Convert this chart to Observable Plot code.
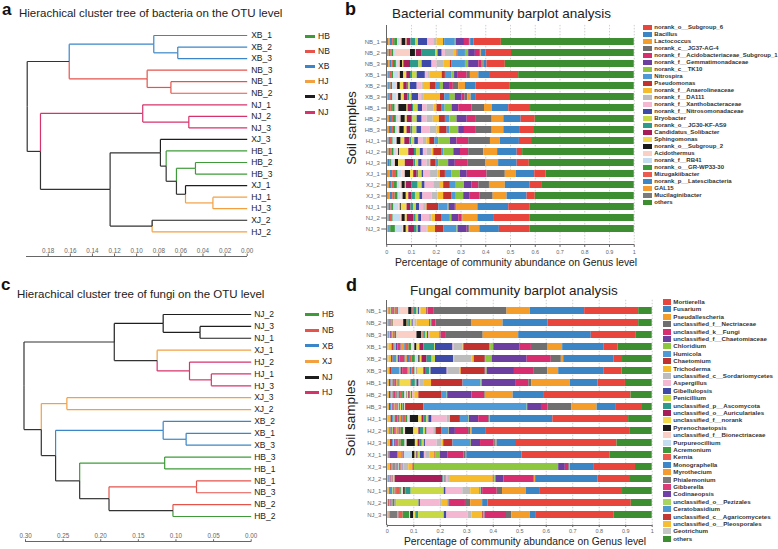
<!DOCTYPE html>
<html><head><meta charset="utf-8">
<script src="https://cdn.jsdelivr.net/npm/d3@7"></script>
<script src="https://cdn.jsdelivr.net/npm/@observablehq/plot@0.6"></script>
<style>
body{margin:0;background:#fff;}
#root{position:relative;width:778px;height:549px;overflow:hidden;background:#fff;font-family:"Liberation Sans",Arial,Helvetica,sans-serif;color:#222;}
.abs{position:absolute;white-space:nowrap;}
.panel{position:absolute;}
</style></head><body><div id="root"></div>
<script>
// ---------------- DATA ----------------
const samplesB = ["NB_1","NB_2","NB_3","XB_1","XB_2","XB_3","HB_1","HB_2","HB_3","HJ_1","HJ_2","HJ_3","XJ_1","XJ_2","XJ_3","NJ_1","NJ_2","NJ_3"];
const samplesD = ["NB_1","NB_2","NB_3","XB_1","XB_2","XB_3","HB_1","HB_2","HB_3","HJ_1","HJ_2","HJ_3","XJ_1","XJ_3","XJ_2","NJ_1","NJ_2","NJ_3"];

// legend order (top to bottom)
const bacteriaTaxa = ["norank_o__Subgroup_6","Bacillus","Lactococcus","norank_c__JG37-AG-4","norank_f__Acidobacteriaceae_Subgroup_1","norank_f__Gemmatimonadaceae","norank_c__TK10","Nitrospira","Pseudomonas","norank_f__Anaerolineaceae","norank_f__DA111","norank_f__Xanthobacteraceae","norank_f__Nitrosomonadaceae","Bryobacter","norank_o__JG30-KF-AS9","Candidatus_Solibacter","Sphingomonas","norank_o__Subgroup_2","Acidothermus","norank_f__RB41","norank_o__GR-WP33-30","Mizugakiibacter","norank_p__Latescibacteria","GAL15","Mucilaginibacter","others"];
const bacteriaColors = ["#e8453c","#3c85c4","#f59d2a","#6f6f6f","#d62e6e","#6b3fa0","#8dc63f","#4e9ad6","#c1322f","#f7bc2e","#bdbdbd","#f5b8d2","#3e4aa8","#c8d946","#2d9b8b","#a61d5a","#f2da4c","#1b1b1b","#f9cfc6","#c4ddf1","#3b9a3b","#ea5a4e","#3d87c9","#f59b2f","#7b7b7b","#3d8e30"];

// relative abundance per sample (rows = samplesB), listed in stacking order left->right:
// Mucilaginibacter ... norank_o__Subgroup_6, then others
const bacteriaAbundance = [
 [0.008,0.006,0.010,0.008,0.012,0.010,0.008,0.016,0.004,0.016,0.020,0.010,0.038,0.024,0.013,0.027,0.004,0.043,0.004,0.033,0.020,0.003,0.002,0.013,0.111,0.537],
 [0.006,0.004,0.006,0.005,0.008,0.006,0.061,0.020,0.004,0.023,0.054,0.010,0.017,0.013,0.033,0.014,0.004,0.030,0.013,0.027,0.020,0.003,0.002,0.018,0.103,0.496],
 [0.008,0.005,0.008,0.006,0.012,0.008,0.008,0.010,0.004,0.027,0.034,0.013,0.040,0.020,0.027,0.027,0.007,0.054,0.013,0.041,0.013,0.005,0.002,0.013,0.074,0.521],
 [0.004,0.004,0.006,0.006,0.008,0.020,0.007,0.014,0.012,0.015,0.008,0.019,0.033,0.013,0.007,0.048,0.013,0.027,0.010,0.015,0.036,0.013,0.034,0.047,0.114,0.467],
 [0.004,0.004,0.005,0.005,0.006,0.015,0.005,0.011,0.014,0.014,0.006,0.007,0.027,0.020,0.005,0.028,0.021,0.020,0.012,0.028,0.012,0.022,0.027,0.043,0.136,0.503],
 [0.004,0.004,0.006,0.005,0.006,0.016,0.007,0.011,0.012,0.015,0.006,0.010,0.027,0.012,0.008,0.068,0.017,0.023,0.020,0.027,0.012,0.011,0.014,0.021,0.138,0.500],
 [0.004,0.006,0.006,0.008,0.010,0.007,0.008,0.033,0.004,0.018,0.006,0.017,0.018,0.018,0.027,0.013,0.021,0.012,0.028,0.027,0.054,0.050,0.031,0.067,0.088,0.419],
 [0.005,0.006,0.008,0.008,0.012,0.010,0.009,0.017,0.008,0.017,0.006,0.017,0.020,0.020,0.025,0.025,0.024,0.018,0.029,0.041,0.037,0.064,0.047,0.070,0.057,0.400],
 [0.005,0.006,0.008,0.008,0.010,0.008,0.008,0.018,0.011,0.016,0.008,0.016,0.020,0.034,0.027,0.011,0.030,0.011,0.036,0.023,0.048,0.064,0.047,0.067,0.057,0.403],
 [0.004,0.005,0.006,0.005,0.006,0.010,0.006,0.016,0.015,0.020,0.008,0.012,0.015,0.020,0.014,0.012,0.020,0.016,0.047,0.027,0.047,0.088,0.040,0.077,0.049,0.415],
 [0.004,0.006,0.006,0.006,0.008,0.010,0.008,0.004,0.037,0.023,0.008,0.016,0.012,0.015,0.020,0.007,0.034,0.006,0.041,0.027,0.033,0.061,0.056,0.079,0.022,0.451],
 [0.003,0.004,0.005,0.004,0.005,0.010,0.004,0.013,0.027,0.034,0.008,0.012,0.014,0.020,0.011,0.004,0.019,0.013,0.040,0.027,0.050,0.074,0.051,0.075,0.049,0.424],
 [0.006,0.008,0.010,0.012,0.010,0.015,0.014,0.021,0.013,0.014,0.006,0.014,0.007,0.027,0.030,0.010,0.020,0.027,0.034,0.027,0.080,0.074,0.045,0.074,0.046,0.356],
 [0.005,0.006,0.010,0.010,0.012,0.010,0.009,0.013,0.004,0.023,0.025,0.016,0.012,0.035,0.027,0.013,0.027,0.024,0.033,0.031,0.027,0.043,0.064,0.099,0.051,0.371],
 [0.006,0.008,0.010,0.010,0.012,0.012,0.008,0.013,0.010,0.013,0.014,0.018,0.012,0.037,0.024,0.023,0.034,0.017,0.030,0.024,0.041,0.054,0.056,0.081,0.033,0.400],
 [0.004,0.005,0.008,0.006,0.006,0.020,0.006,0.004,0.023,0.016,0.010,0.012,0.013,0.016,0.008,0.006,0.047,0.036,0.006,0.025,0.003,0.002,0.086,0.125,0.085,0.422],
 [0.004,0.005,0.006,0.005,0.006,0.030,0.006,0.013,0.008,0.026,0.010,0.010,0.012,0.032,0.010,0.014,0.027,0.033,0.006,0.028,0.013,0.004,0.060,0.067,0.143,0.422],
 [0.004,0.004,0.004,0.004,0.019,0.030,0.004,0.010,0.010,0.023,0.011,0.004,0.012,0.024,0.004,0.030,0.033,0.054,0.004,0.037,0.006,0.004,0.041,0.079,0.123,0.422]
];

const fungiTaxa = ["Mortierella","Fusarium","Pseudallescheria","unclassified_f__Nectriaceae","unclassified_k__Fungi","unclassified_f__Chaetomiaceae","Chloridium","Humicola","Chaetomium","Trichoderma","unclassified_c__Sordariomycetes","Aspergillus","Gibellulopsis","Penicillium","unclassified_p__Ascomycota","unclassified_o__Auriculariales","unclassified_f__norank","Pyrenochaetopsis","unclassified_f__Bionectriaceae","Purpureocillium","Acremonium","Kernia","Monographella","Myrothecium","Phialemonium","Gibberella","Codinaeopsis","unclassified_o__Pezizales","Ceratobasidium","unclassified_c__Agaricomycetes","unclassified_o__Pleosporales","Geotrichum","others"];
const fungiColors = ["#e8453c","#3c85c4","#f59d2a","#6f6f6f","#d62e6e","#6b3fa0","#8dc63f","#4e9ad6","#c1322f","#f7bc2e","#bdbdbd","#f5b8d2","#3e4aa8","#c8d946","#2d9b8b","#a61d5a","#f2da4c","#1b1b1b","#f9cfc6","#c4ddf1","#3b9a3b","#ea5a4e","#3d87c9","#f59b2f","#7b7b7b","#dd3a78","#7040a8","#a8d460","#4c98d4","#c43a32","#f6bd35","#c6c6c6","#3d8e30"];

// rows = samplesD, stacking order left->right: Geotrichum ... Mortierella, then others
const fungiAbundance = [
 [0.003,0.004,0.003,0.003,0.004,0.003,0.003,0.004,0.003,0.004,0.004,0.004,0.008,0.031,0.013,0.003,0.003,0.012,0.006,0.004,0.003,0.002,0.021,0.003,0.002,0.001,0.001,0.020,0.277,0.088,0.205,0.204,0.051],
 [0.002,0.002,0.002,0.002,0.002,0.002,0.002,0.002,0.002,0.002,0.002,0.002,0.001,0.037,0.013,0.003,0.003,0.007,0.006,0.004,0.006,0.008,0.048,0.003,0.002,0.002,0.002,0.015,0.136,0.117,0.169,0.343,0.051],
 [0.002,0.002,0.002,0.003,0.003,0.003,0.003,0.003,0.003,0.003,0.003,0.006,0.001,0.075,0.019,0.004,0.003,0.006,0.008,0.005,0.003,0.003,0.035,0.002,0.001,0.001,0.001,0.017,0.142,0.134,0.274,0.170,0.060],
 [0.006,0.012,0.006,0.006,0.004,0.006,0.012,0.004,0.010,0.006,0.010,0.010,0.006,0.006,0.008,0.011,0.015,0.041,0.003,0.066,0.003,0.035,0.003,0.098,0.003,0.012,0.098,0.044,0.063,0.055,0.157,0.052,0.129],
 [0.006,0.010,0.006,0.014,0.006,0.006,0.018,0.004,0.006,0.008,0.010,0.012,0.008,0.005,0.005,0.007,0.019,0.019,0.013,0.069,0.003,0.066,0.008,0.042,0.003,0.023,0.132,0.091,0.038,0.009,0.189,0.033,0.112],
 [0.004,0.006,0.006,0.030,0.006,0.006,0.020,0.004,0.005,0.006,0.006,0.006,0.004,0.004,0.002,0.023,0.006,0.016,0.005,0.061,0.002,0.046,0.005,0.091,0.003,0.004,0.103,0.075,0.051,0.041,0.170,0.069,0.114],
 [0.004,0.004,0.006,0.004,0.004,0.004,0.004,0.006,0.004,0.002,0.002,0.002,0.002,0.001,0.001,0.040,0.004,0.012,0.006,0.008,0.005,0.015,0.027,0.119,0.068,0.004,0.129,0.047,0.012,0.145,0.104,0.104,0.101],
 [0.004,0.004,0.006,0.004,0.004,0.004,0.006,0.006,0.006,0.006,0.008,0.008,0.004,0.003,0.002,0.006,0.004,0.004,0.003,0.003,0.005,0.004,0.015,0.088,0.019,0.002,0.092,0.047,0.003,0.105,0.115,0.330,0.080],
 [0.004,0.004,0.004,0.004,0.003,0.003,0.004,0.003,0.003,0.004,0.004,0.004,0.002,0.002,0.002,0.004,0.003,0.003,0.002,0.003,0.002,0.002,0.000,0.069,0.390,0.002,0.052,0.024,0.091,0.095,0.070,0.098,0.040],
 [0.004,0.010,0.006,0.006,0.004,0.004,0.006,0.006,0.008,0.006,0.010,0.008,0.005,0.004,0.032,0.012,0.008,0.010,0.008,0.012,0.057,0.010,0.002,0.038,0.032,0.002,0.035,0.038,0.004,0.002,0.236,0.286,0.089],
 [0.004,0.006,0.004,0.006,0.004,0.004,0.004,0.004,0.004,0.004,0.008,0.010,0.004,0.003,0.031,0.019,0.006,0.012,0.008,0.005,0.025,0.007,0.002,0.023,0.025,0.002,0.023,0.050,0.008,0.005,0.054,0.541,0.085],
 [0.004,0.008,0.008,0.004,0.004,0.004,0.006,0.004,0.003,0.004,0.003,0.015,0.004,0.004,0.031,0.010,0.006,0.010,0.008,0.004,0.044,0.019,0.006,0.035,0.066,0.003,0.035,0.050,0.006,0.006,0.070,0.383,0.133],
 [0.003,0.002,0.002,0.003,0.000,0.030,0.002,0.000,0.013,0.004,0.003,0.003,0.030,0.000,0.010,0.005,0.003,0.004,0.008,0.015,0.005,0.015,0.020,0.003,0.002,0.015,0.028,0.062,0.008,0.002,0.208,0.332,0.160],
 [0.004,0.009,0.003,0.003,0.003,0.003,0.003,0.003,0.003,0.003,0.003,0.004,0.002,0.002,0.002,0.002,0.002,0.002,0.002,0.002,0.002,0.019,0.016,0.005,0.000,0.545,0.025,0.013,0.004,0.002,0.088,0.158,0.063],
 [0.002,0.002,0.002,0.003,0.002,0.002,0.002,0.002,0.002,0.002,0.002,0.002,0.001,0.002,0.001,0.001,0.180,0.004,0.004,0.004,0.006,0.007,0.165,0.003,0.003,0.004,0.030,0.113,0.003,0.004,0.235,0.123,0.082],
 [0.005,0.003,0.003,0.010,0.003,0.002,0.002,0.002,0.002,0.003,0.012,0.006,0.006,0.003,0.006,0.002,0.002,0.018,0.125,0.007,0.063,0.030,0.035,0.002,0.002,0.002,0.004,0.055,0.020,0.090,0.050,0.313,0.112],
 [0.003,0.002,0.003,0.003,0.002,0.002,0.002,0.002,0.001,0.001,0.001,0.006,0.001,0.001,0.001,0.002,0.001,0.001,0.085,0.005,0.075,0.005,0.025,0.001,0.001,0.001,0.002,0.060,0.020,0.045,0.020,0.541,0.079],
 [0.006,0.001,0.001,0.001,0.001,0.001,0.001,0.028,0.002,0.002,0.016,0.025,0.002,0.001,0.012,0.008,0.002,0.008,0.097,0.010,0.080,0.015,0.040,0.003,0.003,0.002,0.002,0.080,0.020,0.070,0.020,0.295,0.145]
];

// cluster trees: leaf order top->bottom; merges [left, right, height] (number = earlier merge index)
const bactTreeLeaves = ["XB_1","XB_2","XB_3","NB_3","NB_1","NB_2","NJ_1","NJ_2","NJ_3","XJ_3","HB_1","HB_2","HB_3","XJ_1","HJ_1","HJ_3","XJ_2","HJ_2"];
const bactMerges = [
 ["XB_2","XB_3",0.0628],["XB_1",0,0.0845],["NB_1","NB_2",0.069],["NB_3",2,0.0905],[1,3,0.161],
 ["NJ_2","NJ_3",0.0528],["NJ_1",5,0.0945],["HB_2","HB_3",0.0468],["HJ_1","HJ_3",0.031],["XJ_1",8,0.0558],
 [7,9,0.064],["HB_1",10,0.0733],["XJ_3",11,0.0785],["XJ_2","HJ_2",0.086],[12,13,0.124],[6,14,0.187],[4,15,0.199]
];
const bactGroups = ["HB","NB","XB","HJ","XJ","NJ"];
const bactGroupColors = ["#3f9b3a","#e5534b","#3a86c8","#f3a040","#1e1e1e","#d6336c"];
const bactAxisTicks = [0,0.02,0.04,0.06,0.08,0.10,0.12,0.14,0.16,0.18];

const fungiTreeLeaves = ["NJ_2","NJ_3","NJ_1","XJ_1","HJ_2","HJ_1","HJ_3","XJ_3","XJ_2","XB_2","XB_1","XB_3","HB_3","HB_1","NB_1","NB_3","NB_2","HB_2"];
const fungiMerges = [
 ["NJ_3","NJ_1",0.068],["NJ_2",0,0.117],["HJ_1","HJ_3",0.053],["HJ_2",2,0.082],["XJ_1",3,0.125],[1,4,0.182],
 ["XJ_3","XJ_2",0.245],["XB_1","XB_3",0.0865],["XB_2",7,0.117],["HB_3","HB_1",0.115],["NB_1","NB_3",0.0727],
 ["NB_2","HB_2",0.104],[10,11,0.189],[9,12,0.228],[8,13,0.26],[6,14,0.279],[5,15,0.302]
];
const fungiGroups = ["HB","NB","XB","XJ","NJ","HJ"];
const fungiGroupColors = ["#3f9b3a","#e5534b","#3a86c8","#f3a040","#1e1e1e","#d6336c"];
const fungiAxisTicks = [0,0.05,0.10,0.15,0.20,0.25,0.30];

const barTicks = [0,0.1,0.2,0.3,0.4,0.5,0.6,0.7,0.8,0.9,1];

// ---------------- HELPERS ----------------
const FONT = '"Liberation Sans", Arial, Helvetica, sans-serif';
const root = document.getElementById("root");
function txt(text, x, baseline, size, extra = {}) {
  const d = document.createElement("div");
  d.className = "abs";
  d.textContent = text;
  Object.assign(d.style, {left: x + "px", top: (baseline - 0.85 * size) + "px", fontSize: size + "px", lineHeight: size + "px"}, extra);
  root.appendChild(d);
  return d;
}
function vtxt(text, cx, cy, size, extra = {}) {
  const d = document.createElement("div");
  d.className = "abs";
  d.textContent = text;
  Object.assign(d.style, {left: cx + "px", top: cy + "px", fontSize: size + "px", lineHeight: size + "px",
    transform: "translate(-50%,-50%) rotate(-90deg)"}, extra);
  root.appendChild(d);
}
function panel(svg, left, top) {
  const d = document.createElement("div");
  d.className = "panel";
  d.style.left = left + "px"; d.style.top = top + "px";
  d.appendChild(svg);
  root.appendChild(d);
}
function rect(x, y, w, h, color) {
  const d = document.createElement("div");
  d.className = "abs";
  Object.assign(d.style, {left: x + "px", top: y + "px", width: w + "px", height: h + "px", background: color});
  root.appendChild(d);
}

function treeSegments(leaves, merges, groups, colors) {
  const nodes = new Map();
  leaves.forEach((name, i) => nodes.set(name, {y: i, h: 0, g: new Set([name.split("_")[0]])}));
  const get = r => typeof r === "number" ? nodes.get("#" + r) : nodes.get(r);
  const segs = [];
  merges.forEach(([a, b, h], i) => {
    const A = get(a), B = get(b);
    const node = {y: (A.y + B.y) / 2, h, g: new Set([...A.g, ...B.g])};
    for (const c of [A, B]) {
      const col = c.g.size === 1 ? colors[groups.indexOf([...c.g][0])] : "#333333";
      segs.push({x1: h, y1: node.y, x2: h, y2: c.y, color: col});
      segs.push({x1: h, y1: c.y, x2: c.h, y2: c.y, color: col});
    }
    nodes.set("#" + i, node);
  });
  return segs;
}

function longData(samples, taxaLegend, rows) {
  const stack = [...taxaLegend.slice(0, -1).reverse(), taxaLegend[taxaLegend.length - 1]];
  const out = [];
  samples.forEach((s, i) => stack.forEach((t, j) => out.push({sample: s, taxon: t, value: rows[i][j]})));
  return {out, stack};
}

const baseStyle = {background: "transparent", overflow: "visible", fontFamily: FONT, color: "#333"};
const AXIS = "#666";

// ---------------- PANEL A: bacteria tree ----------------
{
  const top = 0, W = 340, Hh = 275;
  const segs = treeSegments(bactTreeLeaves, bactMerges, bactGroups, bactGroupColors);
  const svg = Plot.plot({
    width: W, height: Hh, marginTop: 0, marginLeft: 25.6, marginRight: W - 246.7, marginBottom: Hh - (256 - top),
    x: {domain: [0, 0.2], range: [246.7, 25.6], axis: null},
    y: {domain: [0, bactTreeLeaves.length - 1], range: [35 - top, 231.3 - top], axis: null},
    style: baseStyle,
    marks: [
      Plot.link(segs, {x1: "x1", y1: "y1", x2: "x2", y2: "y2", stroke: "color", strokeWidth: 1.2}),
      Plot.text(bactTreeLeaves, {x: () => 0, y: (d, i) => i, text: d => d, dx: 4, textAnchor: "start", fontSize: 8.5, fill: "#222"}),
      Plot.axisX({anchor: "bottom", ticks: bactAxisTicks, tickFormat: d3.format(".2f"), tickSize: -2.5, tickPadding: -5.8, fontSize: 6.3, color: AXIS, label: null})
    ]
  });
  panel(svg, 0, top);
  rect(25.6, 255.5, 221.1, 1, AXIS);
  txt("a", 2, 15.5, 17, {fontWeight: "bold", color: "#111"});
  txt("Hierachical cluster tree of bacteria on the OTU level", 19, 18, 11.5);
  bactGroups.forEach((g, i) => {
    const cy = 36 + 15.2 * i;
    rect(305, cy - 1.5, 10, 3, bactGroupColors[i]);
    txt(g, 318, cy + 3, 8.5);
  });
}

// ---------------- PANEL B: bacteria bars ----------------
{
  const left = 340, top = 0, W = 300, Hh = 275;
  const {out, stack} = longData(samplesB, bacteriaTaxa, bacteriaAbundance);
  const x0 = 386.25 - left, x1 = 633.75 - left, y0 = 24.9 - top, y1 = 244.4 - top;
  const svg = Plot.plot({
    width: W, height: Hh, marginLeft: x0, marginRight: W - x1, marginTop: y0, marginBottom: Hh - y1,
    x: {domain: [0, 1], range: [x0, x1], axis: null},
    y: {domain: samplesB, range: [y0, y1], padding: 0.4, axis: null},
    color: {type: "ordinal", domain: bacteriaTaxa, range: bacteriaColors},
    style: baseStyle,
    marks: [
      Plot.gridX({ticks: barTicks.slice(1), stroke: "#bbb", strokeOpacity: 0.7, strokeDasharray: "1.5,1.5"}),
      Plot.barX(out, {x: "value", y: "sample", fill: "taxon", order: stack}),
      Plot.axisX({ticks: barTicks, tickFormat: d => String(d), tickSize: 2.5, tickPadding: 2.5, fontSize: 5.5, color: AXIS, label: null}),
      Plot.axisY({tickSize: 5, tickPadding: 2, fontSize: 6, color: AXIS, label: null})
    ]
  });
  panel(svg, left, top);
  rect(386.25, 244.4, 247.5, 0.8, AXIS);
  rect(385.6, 24.9, 0.8, 219.5, AXIS);
  txt("b", 345, 15.5, 18, {fontWeight: "bold", color: "#111"});
  txt("Bacterial community barplot analysis", 392, 18.3, 13.5);
  txt("Percentage of community abundance on Genus level", 395, 266.5, 10.3);
  vtxt("Soil samples", 351, 128, 13);
  bacteriaTaxa.forEach((t, i) => {
    const cy = 27.3 + 7.0 * i;
    rect(643.3, cy - 2.8, 8.4, 5.6, bacteriaColors[i]);
    txt(t, 654.3, cy + 2.2, 6, {fontWeight: "bold", color: "#333"});
  });
}

// ---------------- PANEL C: fungi tree ----------------
{
  const top = 275, W = 340, Hh = 274;
  const segs = treeSegments(fungiTreeLeaves, fungiMerges, fungiGroups, fungiGroupColors);
  const svg = Plot.plot({
    width: W, height: Hh, marginTop: 0, marginLeft: 25, marginRight: W - 250.7, marginBottom: Hh - (541.7 - top),
    x: {domain: [0, 0.3], range: [250.7, 25], axis: null},
    y: {domain: [0, fungiTreeLeaves.length - 1], range: [314 - top, 516 - top], axis: null},
    style: baseStyle,
    marks: [
      Plot.link(segs, {x1: "x1", y1: "y1", x2: "x2", y2: "y2", stroke: "color", strokeWidth: 1.2}),
      Plot.text(fungiTreeLeaves, {x: () => 0, y: (d, i) => i, text: d => d, dx: 3, textAnchor: "start", fontSize: 8.5, fill: "#222"}),
      Plot.axisX({anchor: "bottom", ticks: fungiAxisTicks, tickFormat: d3.format(".2f"), tickSize: -2.5, tickPadding: -6.3, fontSize: 6.3, color: AXIS, label: null})
    ]
  });
  panel(svg, 0, top);
  rect(25, 541.2, 225.7, 1, AXIS);
  txt("c", 1, 290, 17, {fontWeight: "bold", color: "#111"});
  txt("Hierachical cluster tree of fungi on the OTU level", 17, 298.5, 11.5);
  fungiGroups.forEach((g, i) => {
    const cy = 314.7 + 15.6 * i;
    rect(305, cy - 1.5, 14, 3, fungiGroupColors[i]);
    txt(g, 322, cy + 3, 8.5);
  });
}

// ---------------- PANEL D: fungi bars ----------------
{
  const left = 340, top = 280, W = 318, Hh = 269;
  const {out, stack} = longData(samplesD, fungiTaxa, fungiAbundance);
  const x0 = 386.8 - left, x1 = 651.7 - left, y0 = 299.75 - top, y1 = 524.55 - top;
  const svg = Plot.plot({
    width: W, height: Hh, marginLeft: x0, marginRight: W - x1, marginTop: y0, marginBottom: Hh - y1,
    x: {domain: [0, 1], range: [x0, x1], axis: null},
    y: {domain: samplesD, range: [y0, y1], padding: 0.4, axis: null},
    color: {type: "ordinal", domain: fungiTaxa, range: fungiColors},
    style: baseStyle,
    marks: [
      Plot.gridX({ticks: barTicks.slice(1), stroke: "#bbb", strokeOpacity: 0.7, strokeDasharray: "1.5,1.5"}),
      Plot.barX(out, {x: "value", y: "sample", fill: "taxon", order: stack}),
      Plot.axisX({ticks: barTicks, tickFormat: d => String(d), tickSize: 2.5, tickPadding: 2, fontSize: 5.5, color: AXIS, label: null}),
      Plot.axisY({tickSize: 4, tickPadding: 2, fontSize: 6, color: AXIS, label: null})
    ]
  });
  panel(svg, left, top);
  rect(386.8, 524.55, 264.9, 0.8, AXIS);
  rect(386.1, 299.75, 0.8, 224.8, AXIS);
  txt("d", 346, 291, 18, {fontWeight: "bold", color: "#111"});
  txt("Fungal community barplot analysis", 410, 295, 13.5);
  txt("Percentage of community abundance on Genus level", 404, 546, 10.3);
  vtxt("Soil samples", 351, 418, 13.5);
  fungiTaxa.forEach((t, i) => {
    const cy = 302 + 7.4 * i;
    rect(662.7, cy - 3, 8, 6, fungiColors[i]);
    txt(t, 673.3, cy + 2.2, 6.2, {fontWeight: "bold", color: "#333"});
  });
}
</script></body></html>
